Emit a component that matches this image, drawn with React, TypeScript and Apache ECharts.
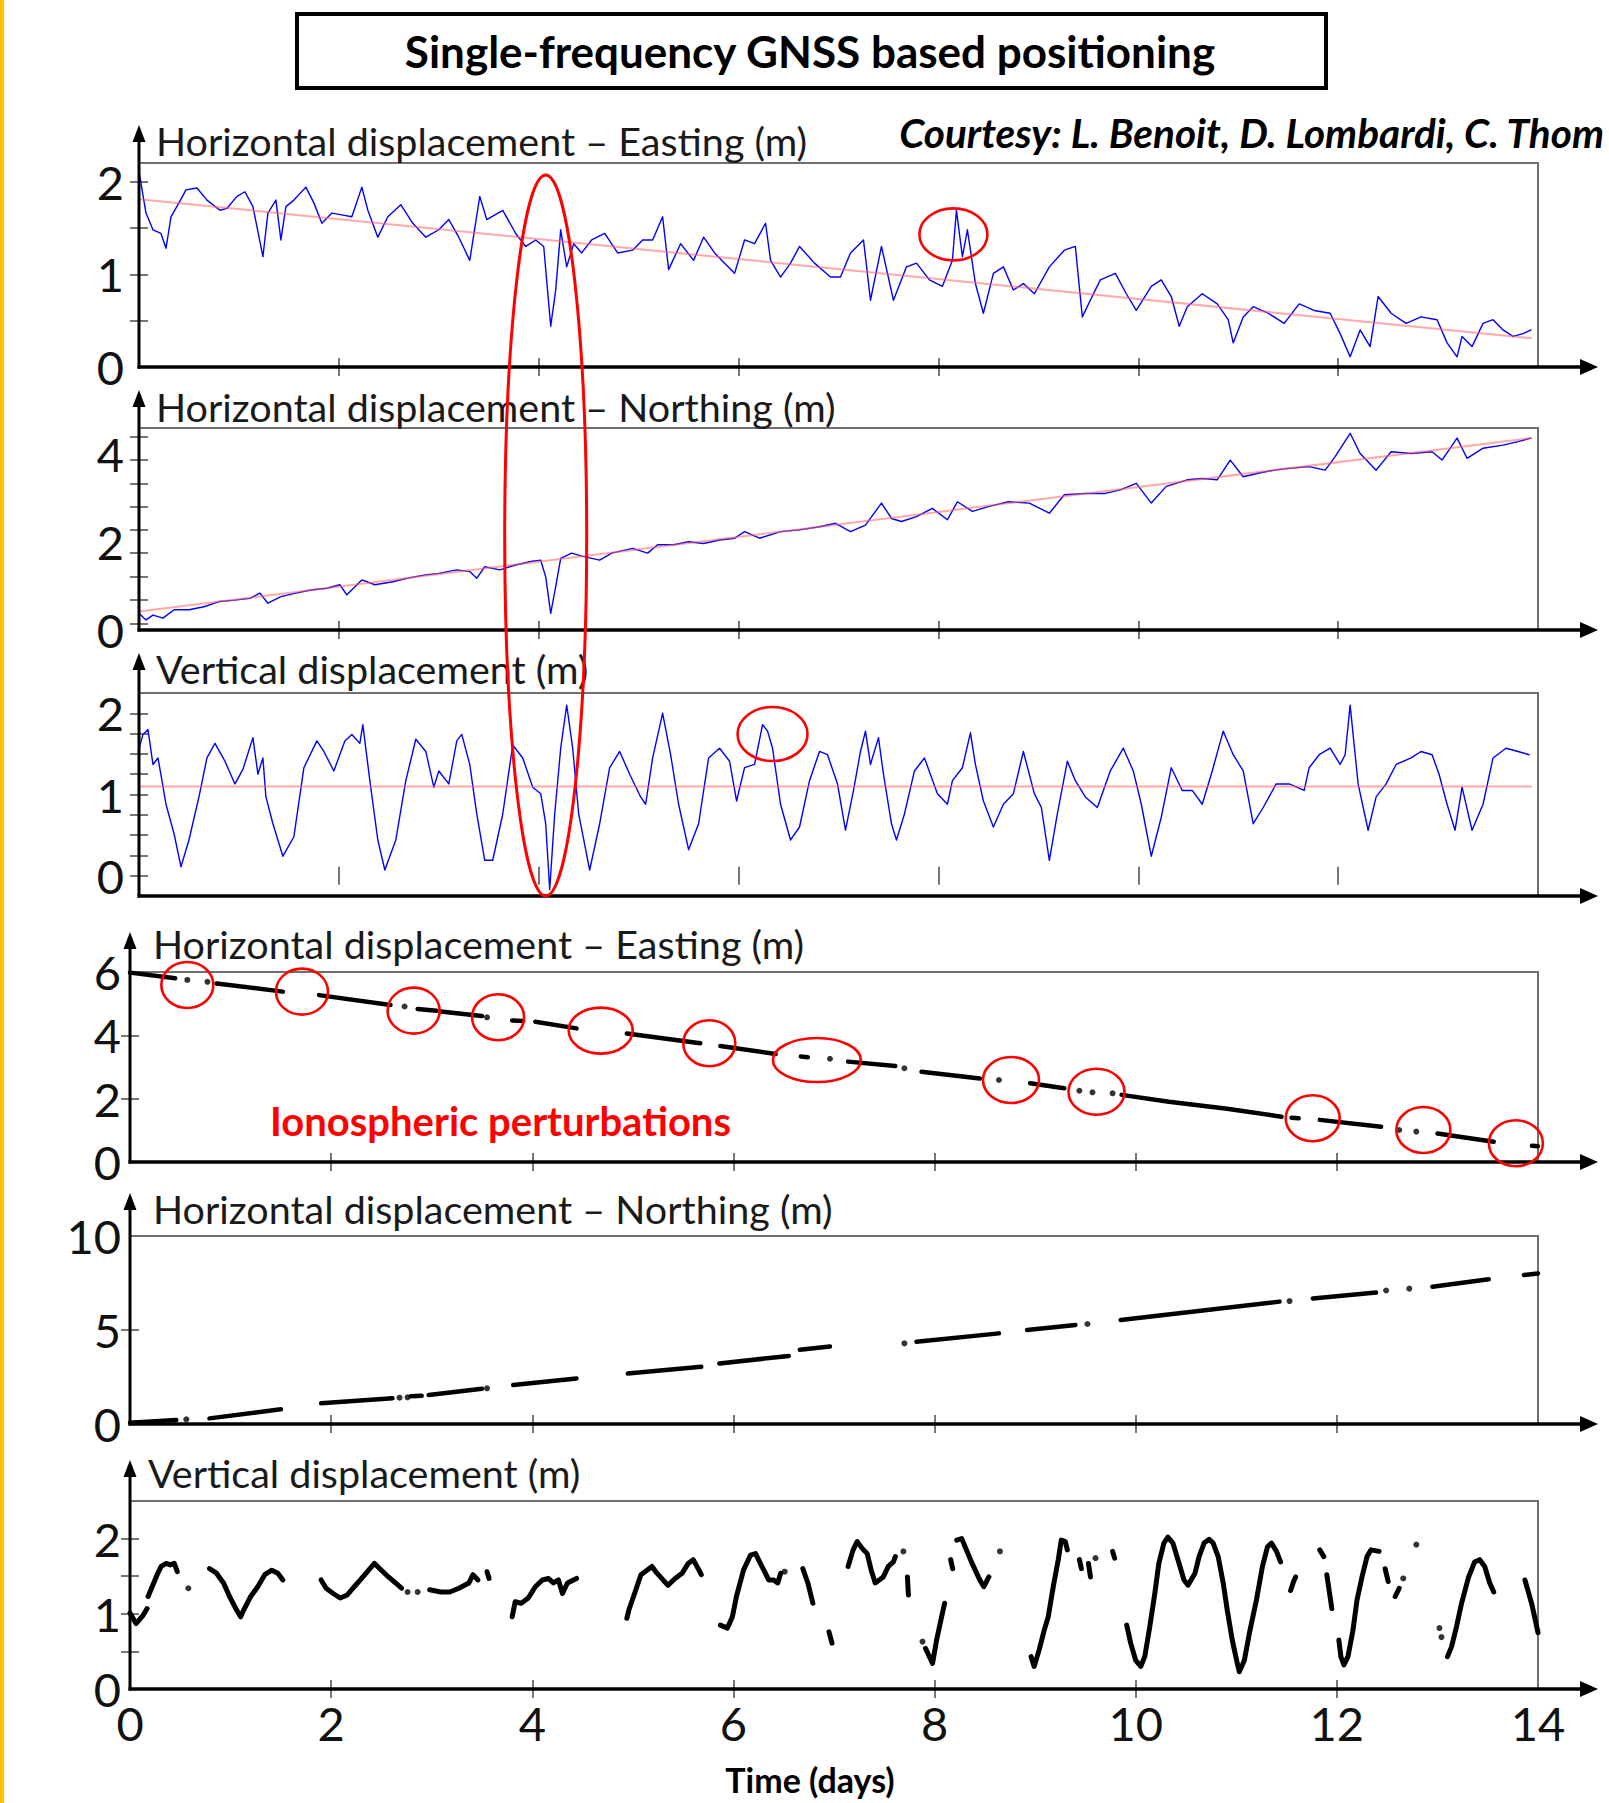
import React, { useEffect, useRef } from "react";
import * as echarts from "echarts";

// ---------------- DATA ----------------
// x = time in days, y = displacement in metres

// Panel 1: Horizontal displacement – Easting (m), single-frequency GNSS (blue)
const eastingGnss = [
  [0,2.11],[0.07,1.66],[0.14,1.48],[0.22,1.44],[0.27,1.28],[0.32,1.62],[0.4,1.77],[0.47,1.91],[0.58,1.93],[0.68,1.8],
  [0.81,1.69],[0.88,1.71],[0.98,1.84],[1.06,1.89],[1.14,1.73],[1.24,1.19],[1.29,1.66],[1.37,1.8],[1.42,1.37],[1.47,1.73],
  [1.55,1.8],[1.67,1.94],[1.75,1.77],[1.83,1.55],[1.93,1.66],[2.03,1.64],[2.13,1.62],[2.23,1.94],[2.29,1.69],[2.39,1.4],
  [2.49,1.62],[2.62,1.75],[2.74,1.55],[2.87,1.4],[3.0,1.48],[3.1,1.59],[3.2,1.4],[3.31,1.15],[3.41,1.84],[3.48,1.59],
  [3.64,1.69],[3.77,1.44],[3.87,1.3],[3.97,1.37],[4.05,1.3],[4.12,0.44],[4.17,0.83],[4.22,1.48],[4.28,1.08],[4.35,1.33],
  [4.43,1.23],[4.53,1.37],[4.66,1.44],[4.79,1.23],[4.94,1.26],[5.04,1.37],[5.14,1.37],[5.24,1.62],[5.3,1.05],[5.42,1.33],
  [5.55,1.15],[5.65,1.4],[5.76,1.23],[5.86,1.12],[5.96,1.01],[6.06,1.37],[6.16,1.33],[6.27,1.55],[6.32,1.15],[6.42,0.97],
  [6.52,1.12],[6.61,1.3],[6.76,1.12],[6.92,0.97],[7.02,0.97],[7.12,1.23],[7.25,1.37],[7.32,0.72],[7.43,1.3],[7.55,0.72],
  [7.68,1.08],[7.78,1.12],[7.91,0.94],[8.04,0.87],[8.14,1.15],[8.18,1.69],[8.24,1.19],[8.29,1.48],[8.37,0.9],[8.45,0.58],
  [8.55,1.01],[8.65,1.08],[8.75,0.83],[8.85,0.9],[8.96,0.79],[9.11,1.08],[9.26,1.26],[9.37,1.3],[9.44,0.54],[9.52,0.72],
  [9.62,0.94],[9.77,1.01],[9.88,0.79],[9.98,0.61],[10.13,0.87],[10.23,0.94],[10.33,0.76],[10.41,0.44],[10.49,0.65],[10.64,0.79],
  [10.79,0.68],[10.9,0.51],[10.95,0.26],[11.05,0.54],[11.15,0.65],[11.3,0.58],[11.46,0.47],[11.61,0.68],[11.76,0.61],[11.92,0.58],
  [12.02,0.36],[12.12,0.11],[12.22,0.4],[12.32,0.22],[12.4,0.76],[12.53,0.58],[12.68,0.47],[12.83,0.54],[12.99,0.51],[13.09,0.26],
  [13.19,0.11],[13.24,0.33],[13.34,0.22],[13.45,0.47],[13.55,0.51],[13.65,0.4],[13.75,0.33],[13.85,0.36],[13.93,0.4],
];
const eastingTrend = [[0,1.81],[13.93,0.31]];

// Panel 2: Horizontal displacement – Northing (m), single-frequency GNSS (blue)
const northingGnss = [
  [0,0.38],[0.07,0.23],[0.14,0.34],[0.24,0.27],[0.35,0.46],[0.5,0.46],[0.65,0.53],[0.81,0.65],[0.96,0.68],[1.11,0.72],
  [1.21,0.84],[1.29,0.61],[1.42,0.76],[1.57,0.84],[1.72,0.91],[1.88,0.95],[2.01,1.03],[2.08,0.8],[2.23,1.14],[2.36,1.03],
  [2.54,1.1],[2.69,1.18],[2.85,1.25],[3.0,1.29],[3.18,1.37],[3.31,1.33],[3.38,1.18],[3.46,1.44],[3.61,1.37],[3.77,1.48],
  [3.92,1.56],[4.02,1.59],[4.07,1.21],[4.12,0.38],[4.17,0.99],[4.22,1.63],[4.33,1.75],[4.45,1.67],[4.61,1.59],[4.73,1.75],
  [4.94,1.86],[5.09,1.75],[5.19,1.94],[5.35,1.94],[5.5,2.01],[5.65,1.97],[5.81,2.05],[5.96,2.09],[6.06,2.24],[6.21,2.09],
  [6.42,2.24],[6.61,2.28],[6.81,2.35],[6.97,2.43],[7.12,2.24],[7.27,2.39],[7.43,2.89],[7.53,2.54],[7.63,2.47],[7.78,2.58],
  [7.94,2.77],[8.09,2.51],[8.19,2.92],[8.34,2.7],[8.5,2.81],[8.7,2.92],[8.91,2.89],[9.11,2.66],[9.26,3.08],[9.47,3.11],
  [9.67,3.11],[9.82,3.19],[9.98,3.34],[10.13,2.89],[10.28,3.27],[10.49,3.42],[10.64,3.45],[10.79,3.42],[10.92,3.87],[11.05,3.49],
  [11.2,3.57],[11.36,3.64],[11.51,3.68],[11.71,3.72],[11.87,3.64],[11.97,3.95],[12.12,4.48],[12.22,4.02],[12.38,3.64],[12.53,4.06],
  [12.73,4.02],[12.94,4.06],[13.04,3.87],[13.19,4.37],[13.29,3.91],[13.45,4.14],[13.65,4.21],[13.8,4.29],[13.93,4.37],
];
const northingTrend = [[0,0.42],[13.93,4.37]];

// Panel 3: Vertical displacement (m), single-frequency GNSS (blue)
const verticalGnss = [
  [0,1.57],[0.04,1.74],[0.09,1.8],[0.14,1.37],[0.19,1.45],[0.23,1.17],[0.27,0.88],[0.35,0.52],[0.42,0.11],[0.5,0.44],
  [0.6,0.97],[0.68,1.45],[0.76,1.63],[0.86,1.41],[0.96,1.13],[1.04,1.31],[1.14,1.7],[1.19,1.25],[1.24,1.45],[1.27,0.97],
  [1.34,0.64],[1.44,0.24],[1.55,0.48],[1.65,1.33],[1.78,1.66],[1.85,1.53],[1.95,1.29],[2.06,1.66],[2.13,1.74],[2.21,1.63],
  [2.24,1.86],[2.31,1.17],[2.39,0.44],[2.46,0.07],[2.57,0.44],[2.67,1.17],[2.77,1.68],[2.87,1.53],[2.95,1.09],[3.0,1.29],
  [3.1,1.13],[3.18,1.66],[3.23,1.74],[3.31,1.37],[3.38,0.76],[3.46,0.19],[3.54,0.19],[3.64,0.76],[3.74,1.61],[3.84,1.45],
  [3.94,1.09],[4.02,1.01],[4.07,0.64],[4.11,-0.17],[4.16,0.76],[4.22,1.57],[4.28,2.1],[4.34,1.57],[4.4,0.76],[4.51,0.07],
  [4.61,0.64],[4.71,1.33],[4.81,1.53],[4.91,1.25],[5.02,0.97],[5.07,0.88],[5.14,1.45],[5.24,2.0],[5.32,1.49],[5.4,0.88],
  [5.5,0.32],[5.6,0.64],[5.7,1.45],[5.81,1.57],[5.91,1.41],[5.98,0.92],[6.06,1.33],[6.16,1.37],[6.24,1.86],[6.29,1.78],
  [6.34,1.57],[6.42,0.88],[6.52,0.44],[6.61,0.6],[6.71,1.17],[6.81,1.53],[6.89,1.49],[6.99,1.13],[7.07,0.56],[7.15,1.05],
  [7.22,1.53],[7.27,1.78],[7.32,1.37],[7.4,1.7],[7.45,1.25],[7.53,0.64],[7.58,0.44],[7.66,0.76],[7.76,1.29],[7.86,1.45],
  [7.99,1.01],[8.09,0.88],[8.14,1.17],[8.24,1.33],[8.32,1.76],[8.37,1.37],[8.45,0.92],[8.55,0.6],[8.65,0.88],[8.75,1.01],
  [8.85,1.53],[8.96,1.01],[9.03,0.84],[9.11,0.19],[9.19,0.76],[9.29,1.41],[9.37,1.17],[9.47,0.97],[9.59,0.84],[9.72,1.29],
  [9.85,1.57],[9.95,1.29],[10.03,0.88],[10.13,0.24],[10.23,0.72],[10.33,1.33],[10.44,1.05],[10.54,1.05],[10.64,0.88],[10.74,1.29],
  [10.85,1.78],[10.95,1.49],[11.05,1.29],[11.15,0.64],[11.25,0.84],[11.38,1.13],[11.51,1.13],[11.66,1.05],[11.71,1.33],[11.81,1.49],
  [11.92,1.57],[12.02,1.37],[12.07,1.49],[12.12,2.1],[12.2,1.13],[12.3,0.56],[12.38,0.97],[12.48,1.13],[12.58,1.37],[12.73,1.45],
  [12.83,1.53],[12.94,1.49],[13.01,1.25],[13.09,0.88],[13.17,0.56],[13.24,1.09],[13.34,0.56],[13.45,0.88],[13.55,1.45],[13.68,1.57],
  [13.8,1.53],[13.91,1.49],
];
const verticalMean = [[0,1.1],[13.93,1.1]];

// Panel 4: Horizontal displacement – Easting (m), pieces of track (black)
const eastingPieces = [
  [[0,5.98],[0.45,5.8]], [[0.57,5.75]], [[0.77,5.69]], [[0.86,5.64],[1.52,5.38]],
  [[1.88,5.27],[2.59,4.96]], [[2.73,4.91]], [[2.86,4.83],[3.05,4.78]], [[3.09,4.75],[3.5,4.61]],
  [[3.55,4.57]], [[3.8,4.47],[3.91,4.45]], [[4.03,4.43],[4.44,4.22]], [[4.94,4.06],[5.67,3.75]],
  [[5.87,3.66],[6.42,3.41]], [[6.67,3.33],[6.74,3.31]], [[6.96,3.26]], [[7.14,3.17],[7.61,3.03]],
  [[7.7,2.96]], [[7.87,2.85],[8.45,2.64]], [[8.64,2.59]], [[8.95,2.49],[9.29,2.33]],
  [[9.44,2.25]], [[9.57,2.2]], [[9.77,2.17]], [[9.86,2.12],[10.33,1.9],[10.89,1.69],[11.45,1.43]],
  [[11.55,1.4],[11.62,1.38]], [[11.83,1.33],[12.44,1.11]], [[12.62,1.01]], [[12.79,0.96]],
  [[13.0,0.9],[13.56,0.64]], [[13.94,0.51],[14.0,0.5]],
];

// Panel 5: Horizontal displacement – Northing (m), pieces of track (black)
const northingPieces = [
  [[0,0.07],[0.46,0.21]], [[0.56,0.25]], [[0.79,0.3],[1.5,0.78]], [[1.9,1.1],[2.61,1.37]],
  [[2.68,1.4]], [[2.76,1.42]], [[2.79,1.47],[2.9,1.5]], [[2.97,1.54],[3.5,1.87]], [[3.55,1.9]],
  [[3.81,2.07],[4.44,2.42]], [[4.95,2.69],[5.68,3.04]], [[5.86,3.22],[6.55,3.62]], [[6.66,3.95],[6.96,4.12]],
  [[7.7,4.29]], [[7.82,4.38],[8.64,4.82]], [[8.92,5.0],[9.4,5.27]], [[9.52,5.32]],
  [[9.85,5.53],[11.43,6.51]], [[11.53,6.54]], [[11.76,6.68],[12.39,6.99]], [[12.49,7.1]], [[12.72,7.2]],
  [[12.95,7.3],[13.51,7.7]], [[13.86,7.93],[14.0,8.01]],
];

// Panel 6: Vertical displacement (m), pieces of track (black)
const verticalPieces = [
  [[0,1.01],[0.06,0.87],[0.13,0.98],[0.17,1.07]],
  [[0.18,1.23],[0.22,1.36],[0.27,1.52],[0.31,1.63],[0.36,1.67],[0.4,1.65],[0.44,1.67],[0.47,1.56]],
  [[0.58,1.34]],
  [[0.79,1.6],[0.86,1.54],[0.93,1.41],[0.99,1.23],[1.06,1.05],[1.1,0.96],[1.13,1.05],[1.2,1.23],[1.27,1.36],[1.34,1.52],[1.41,1.58],[1.47,1.54],[1.52,1.45]],
  [[1.9,1.45],[1.95,1.34],[2.02,1.27],[2.09,1.21],[2.16,1.25],[2.23,1.36],[2.29,1.45],[2.36,1.56],[2.43,1.67],[2.5,1.58],[2.57,1.49],[2.64,1.41],[2.7,1.34]],
  [[2.76,1.29]], [[2.86,1.29]],
  [[2.98,1.32],[3.09,1.29],[3.18,1.29],[3.27,1.34],[3.37,1.41],[3.41,1.52],[3.46,1.45]],
  [[3.55,1.56],[3.57,1.47]],
  [[3.8,0.96],[3.83,1.16],[3.89,1.14],[3.96,1.21],[4.03,1.36],[4.1,1.45],[4.16,1.47],[4.21,1.41],[4.26,1.45],[4.3,1.27],[4.35,1.41],[4.41,1.45],[4.44,1.47]],
  [[4.94,0.94],[4.96,1.05],[5.03,1.32],[5.08,1.52],[5.14,1.58],[5.19,1.63],[5.24,1.54],[5.3,1.45],[5.35,1.38],[5.42,1.47],[5.49,1.54],[5.55,1.67],[5.6,1.72],[5.65,1.6],[5.68,1.52]],
  [[5.87,0.85],[5.94,0.81],[5.99,0.96],[6.03,1.23],[6.1,1.58],[6.17,1.78],[6.22,1.8],[6.26,1.69],[6.31,1.56],[6.35,1.45],[6.4,1.45],[6.44,1.41],[6.47,1.54]],
  [[6.51,1.56]],
  [[6.69,1.6],[6.74,1.41],[6.79,1.14]],
  [[6.95,0.76],[6.98,0.61]],
  [[7.14,1.63],[7.19,1.85],[7.23,1.96],[7.28,1.87],[7.33,1.8],[7.37,1.58],[7.41,1.41],[7.45,1.45],[7.49,1.49],[7.54,1.63],[7.59,1.69],[7.61,1.76]],
  [[7.69,1.83]],
  [[7.73,1.49],[7.74,1.25]],
  [[7.88,0.63]],
  [[7.91,0.54],[7.98,0.34],[8.02,0.65],[8.07,0.96],[8.1,1.14]],
  [[8.16,1.72],[8.18,1.6]],
  [[8.22,1.98],[8.27,2.0],[8.31,1.87],[8.38,1.65],[8.45,1.45],[8.49,1.36],[8.54,1.49]],
  [[8.65,1.83]],
  [[8.96,0.43],[8.99,0.3],[9.04,0.52],[9.09,0.78],[9.13,0.96],[9.18,1.36],[9.23,1.72],[9.26,1.98],[9.3,1.96],[9.32,1.85]],
  [[9.44,1.72],[9.46,1.6]],
  [[9.53,1.67],[9.55,1.49]],
  [[9.6,1.74]],
  [[9.77,1.83],[9.79,1.74]],
  [[9.91,0.85],[9.95,0.61],[10.0,0.38],[10.05,0.3],[10.09,0.43],[10.14,0.83],[10.19,1.27],[10.23,1.67],[10.28,1.94],[10.32,2.02],
   [10.37,1.94],[10.42,1.72],[10.48,1.45],[10.52,1.38],[10.59,1.54],[10.63,1.76],[10.68,1.94],[10.73,1.99],[10.77,1.94],[10.82,1.76],
   [10.87,1.41],[10.91,1.05],[10.96,0.65],[11.01,0.34],[11.03,0.23],[11.08,0.38],[11.13,0.74],[11.2,1.18],[11.26,1.63],[11.31,1.89],
   [11.35,1.94],[11.4,1.83],[11.44,1.69]],
  [[11.54,1.31],[11.57,1.43],[11.59,1.49]],
  [[11.83,1.85],[11.87,1.76]],
  [[11.9,1.52],[11.95,1.07]],
  [[12.02,0.65],[12.04,0.43],[12.07,0.32],[12.11,0.43],[12.16,0.78],[12.2,1.18],[12.25,1.49],[12.3,1.76],[12.34,1.85],[12.42,1.83]],
  [[12.48,1.6],[12.51,1.43]],
  [[12.58,1.23],[12.62,1.34]],
  [[12.66,1.47]],
  [[12.79,1.92]],
  [[13.02,0.81]], [[13.04,0.69]],
  [[13.1,0.43],[13.14,0.56],[13.19,0.83],[13.24,1.14],[13.31,1.49],[13.37,1.69],[13.42,1.72],[13.47,1.63],[13.52,1.41],[13.56,1.29]],
  [[13.87,1.45],[13.94,1.12],[14.0,0.75]],
];

// Tick values
const dayTicks = [0, 2, 4, 6, 8, 10, 12, 14];
const innerDayTicks = [2, 4, 6, 8, 10, 12];

// Annotation circles, in data units of their panel (panel, day, value, rx px, ry px)
const perturbationCircles = [
  [0, 8.15, 1.43, 34, 26],
  [2, 6.34, 1.745, 35, 27],
  [3, 0.57, 5.59, 26, 23], [3, 1.71, 5.38, 26, 23], [3, 2.82, 4.78, 26, 23], [3, 3.66, 4.57, 26, 23],
  [3, 4.68, 4.15, 32, 23], [3, 5.76, 3.75, 26, 23], [3, 6.83, 3.22, 44, 22], [3, 8.76, 2.59, 28, 23],
  [3, 9.61, 2.22, 28, 23], [3, 11.76, 1.38, 27, 23], [3, 12.86, 1.01, 27, 23], [3, 13.78, 0.59, 27, 23],
];
// Tall ellipse around the event at day ~4.07 (top in panel 1, bottom in panel 3)
const eventEllipse = { day: 4.07, topPanel: 0, topValue: 2.07, bottomPanel: 2, bottomValue: -0.25, rx: 41 };

// ---------------- LAYOUT ----------------
const W = 1609;
const H = 1803;
const FONT = "Lato, 'Open Sans', sans-serif";
const ARROW_X = 1598;

const panels = [
  { left: 139, top: 163, width: 1399, height: 204, min: 0, max: 2.2, labels: [0, 1, 2], ticks: [0.5, 1, 1.5, 2],
    title: "Horizontal displacement – Easting (m)", titleX: 156, titleY: 140, arrowTop: 125, labelMargin: 15 },
  { left: 139, top: 428, width: 1399, height: 202, min: 0, max: 4.6, labels: [0, 2, 4],
    ticks: [0.15, 0.68, 1.21, 1.75, 2.28, 2.81, 3.34, 3.87, 4.4],
    title: "Horizontal displacement – Northing (m)", titleX: 156, titleY: 406, arrowTop: 390, labelMargin: 15 },
  { left: 139, top: 693, width: 1399, height: 203, min: -0.25, max: 2.25, labels: [0, 1, 2],
    ticks: [0, 0.25, 0.5, 0.75, 1, 1.25, 1.5, 1.75, 2],
    title: "Vertical displacement (m)", titleX: 156, titleY: 668, arrowTop: 653, labelMargin: 15 },
  { left: 130, top: 972, width: 1408, height: 190, min: 0, max: 6, labels: [0, 2, 4, 6], ticks: [2, 4],
    title: "Horizontal displacement – Easting (m)", titleX: 153, titleY: 943, arrowTop: 932, labelMargin: 9 },
  { left: 130, top: 1236, width: 1408, height: 188, min: 0, max: 10, labels: [0, 5, 10], ticks: [5],
    title: "Horizontal displacement – Northing (m)", titleX: 153, titleY: 1208, arrowTop: 1193, labelMargin: 9 },
  { left: 130, top: 1501, width: 1408, height: 188, min: 0, max: 2.5, labels: [0, 1, 2], ticks: [0.5, 1, 1.5, 2],
    title: "Vertical displacement (m)", titleX: 148, titleY: 1472, arrowTop: 1460, labelMargin: 9 },
];

const toPx = (pi: number, x: number, v: number) => {
  const p = panels[pi];
  return [
    p.left + (x / 14) * p.width,
    p.top + p.height - ((v - p.min) / (p.max - p.min)) * p.height,
  ];
};

function buildOption() {
  const grid = panels.map((p) => ({
    left: p.left, top: p.top, width: p.width, height: p.height,
    show: true, borderColor: "#707070", borderWidth: 2, backgroundColor: "transparent", containLabel: false,
  }));

  const tickStyle = { color: "#555", width: 1.6 };
  const xAxis: any[] = [];
  const yAxis: any[] = [];
  panels.forEach((p, i) => {
    const last = i === panels.length - 1;
    xAxis.push({
      type: "value", gridIndex: i, position: "bottom", min: 0, max: 14,
      axisLine: { show: false },
      axisTick: { show: true, inside: true, length: 9, lineStyle: tickStyle, customValues: innerDayTicks },
      axisLabel: {
        show: last, customValues: dayTicks, fontFamily: FONT, fontSize: 47, color: "#111", margin: 10,
      },
      splitLine: { show: false },
    });
    xAxis.push({
      type: "value", gridIndex: i, position: "top", min: 0, max: 14,
      axisLine: { show: false },
      axisTick: { show: true, inside: true, length: 9, lineStyle: tickStyle, customValues: innerDayTicks },
      axisLabel: { show: false },
      splitLine: { show: false },
    });
    yAxis.push({
      type: "value", gridIndex: i, position: "left", min: p.min, max: p.max,
      axisLine: { show: false },
      axisTick: { show: true, inside: true, length: 9, lineStyle: tickStyle, customValues: p.ticks },
      axisLabel: {
        show: true, customValues: p.labels, fontFamily: FONT, fontSize: 47, color: "#111", margin: p.labelMargin,
      },
      splitLine: { show: false },
    });
    yAxis.push({
      type: "value", gridIndex: i, position: "right", min: p.min, max: p.max,
      axisLine: { show: false },
      axisTick: { show: true, inside: true, length: 9, lineStyle: tickStyle, customValues: p.ticks },
      axisLabel: { show: false },
      splitLine: { show: false },
    });
  });

  const line = (pi: number, data: number[][], color: string, width: number, z: number, opacity = 1) => ({
    type: "line", xAxisIndex: pi * 2, yAxisIndex: pi * 2, data,
    showSymbol: false, symbol: "none", silent: true, z,
    lineStyle: { color, width, opacity, cap: "round", join: "round" },
  });

  const series: any[] = [
    line(0, eastingGnss, "#0000ff", 1.4, 3),
    line(0, eastingTrend, "#ff6060", 2, 4, 0.55),
    line(1, northingGnss, "#0000ff", 1.4, 3),
    line(1, northingTrend, "#ff6060", 2, 4, 0.55),
    line(2, verticalGnss, "#0000ff", 1.4, 3),
    line(2, verticalMean, "#ff6060", 2, 4, 0.55),
  ];

  const pieceSeries = (pi: number, pieces: number[][][], width: number, dot: number) => {
    pieces.forEach((piece) => {
      if (piece.length > 1) {
        series.push(line(pi, piece, "#000", width, 5));
      }
    });
    series.push({
      type: "scatter", xAxisIndex: pi * 2, yAxisIndex: pi * 2, silent: true, z: 5,
      symbol: "circle", symbolSize: dot, itemStyle: { color: "#000" },
      data: pieces.filter((p) => p.length === 1).map((p) => p[0]),
    });
  };
  pieceSeries(3, eastingPieces, 4.5, 6);
  pieceSeries(4, northingPieces, 4.5, 6);
  pieceSeries(5, verticalPieces, 5, 6);

  // ---------- graphic overlays ----------
  const graphic: any[] = [];
  // left orange border
  graphic.push({ type: "rect", shape: { x: 0, y: 0, width: 4, height: H }, style: { fill: "#ffc000" }, z: 50 });
  // title box
  graphic.push({
    type: "rect", shape: { x: 297, y: 14, width: 1029, height: 74 },
    style: { fill: "#fff", stroke: "#000", lineWidth: 4 }, z: 50,
  });
  graphic.push({
    type: "text", x: 810, y: 51, z: 51,
    style: {
      text: "Single-frequency GNSS based positioning", fontFamily: FONT, fontWeight: "bold", fontSize: 44,
      fill: "#000", align: "center", verticalAlign: "middle",
    },
  });
  graphic.push({
    type: "text", x: 1604, y: 132, z: 51,
    style: {
      text: "Courtesy: L. Benoit, D. Lombardi, C. Thom", fontFamily: FONT, fontWeight: "bold", fontStyle: "italic",
      fontSize: 40.5, fill: "#000", align: "right", verticalAlign: "middle",
    },
  });

  panels.forEach((p) => {
    const bottom = p.top + p.height;
    // y axis with arrow
    graphic.push({
      type: "line", z: 60, shape: { x1: p.left, y1: bottom + 1.5, x2: p.left, y2: p.arrowTop + 12 },
      style: { stroke: "#000", lineWidth: 3 },
    });
    graphic.push({
      type: "polygon", z: 60,
      shape: { points: [[p.left - 6.5, p.arrowTop + 17], [p.left + 6.5, p.arrowTop + 17], [p.left, p.arrowTop]] },
      style: { fill: "#000" },
    });
    // x axis with arrow
    graphic.push({
      type: "line", z: 60, shape: { x1: p.left - 1.5, y1: bottom, x2: ARROW_X - 12, y2: bottom },
      style: { stroke: "#000", lineWidth: 3.5 },
    });
    graphic.push({
      type: "polygon", z: 60,
      shape: { points: [[ARROW_X - 18, bottom - 8], [ARROW_X - 18, bottom + 8], [ARROW_X, bottom]] },
      style: { fill: "#000" },
    });
    // axis title
    graphic.push({
      type: "text", x: p.titleX, y: p.titleY, z: 61,
      style: {
        text: p.title, fontFamily: FONT, fontSize: 39.5, fill: "#1a1a1a", align: "left", verticalAlign: "middle",
      },
    });
  });

  graphic.push({
    type: "text", x: 270, y: 1121, z: 61,
    style: {
      text: "Ionospheric perturbations", fontFamily: FONT, fontWeight: "bold", fontSize: 40, fill: "#ff0000",
      align: "left", verticalAlign: "middle",
    },
  });
  graphic.push({
    type: "text", x: 810, y: 1779, z: 61,
    style: {
      text: "Time (days)", fontFamily: FONT, fontWeight: "bold", fontSize: 34, fill: "#000",
      align: "center", verticalAlign: "middle",
    },
  });

  // red annotation ellipses
  perturbationCircles.forEach(([pi, d, v, rx, ry]) => {
    const [cx, cy] = toPx(pi, d, v);
    graphic.push({
      type: "ellipse", z: 70, shape: { cx, cy, rx, ry },
      style: { fill: "none", stroke: "#ff0000", lineWidth: 2.6 },
    });
  });
  {
    const [cx, yTop] = toPx(eventEllipse.topPanel, eventEllipse.day, eventEllipse.topValue);
    const [, yBot] = toPx(eventEllipse.bottomPanel, eventEllipse.day, eventEllipse.bottomValue);
    graphic.push({
      type: "ellipse", z: 70,
      shape: { cx, cy: (yTop + yBot) / 2, rx: eventEllipse.rx, ry: (yBot - yTop) / 2 },
      style: { fill: "none", stroke: "#ff0000", lineWidth: 3 },
    });
  }

  return {
    animation: false,
    backgroundColor: "#fff",
    grid, xAxis, yAxis, series, graphic,
  };
}

export default function App() {
  const ref = useRef<HTMLDivElement>(null);
  useEffect(() => {
    if (!ref.current) return;
    const chart = echarts.init(ref.current, undefined, { renderer: "svg", width: W, height: H });
    chart.setOption(buildOption() as any);
    return () => chart.dispose();
  }, []);
  return (
    <div
      ref={ref}
      style={{ position: "absolute", left: 0, top: 0, width: W, height: H, background: "#fff" }}
    />
  );
}
